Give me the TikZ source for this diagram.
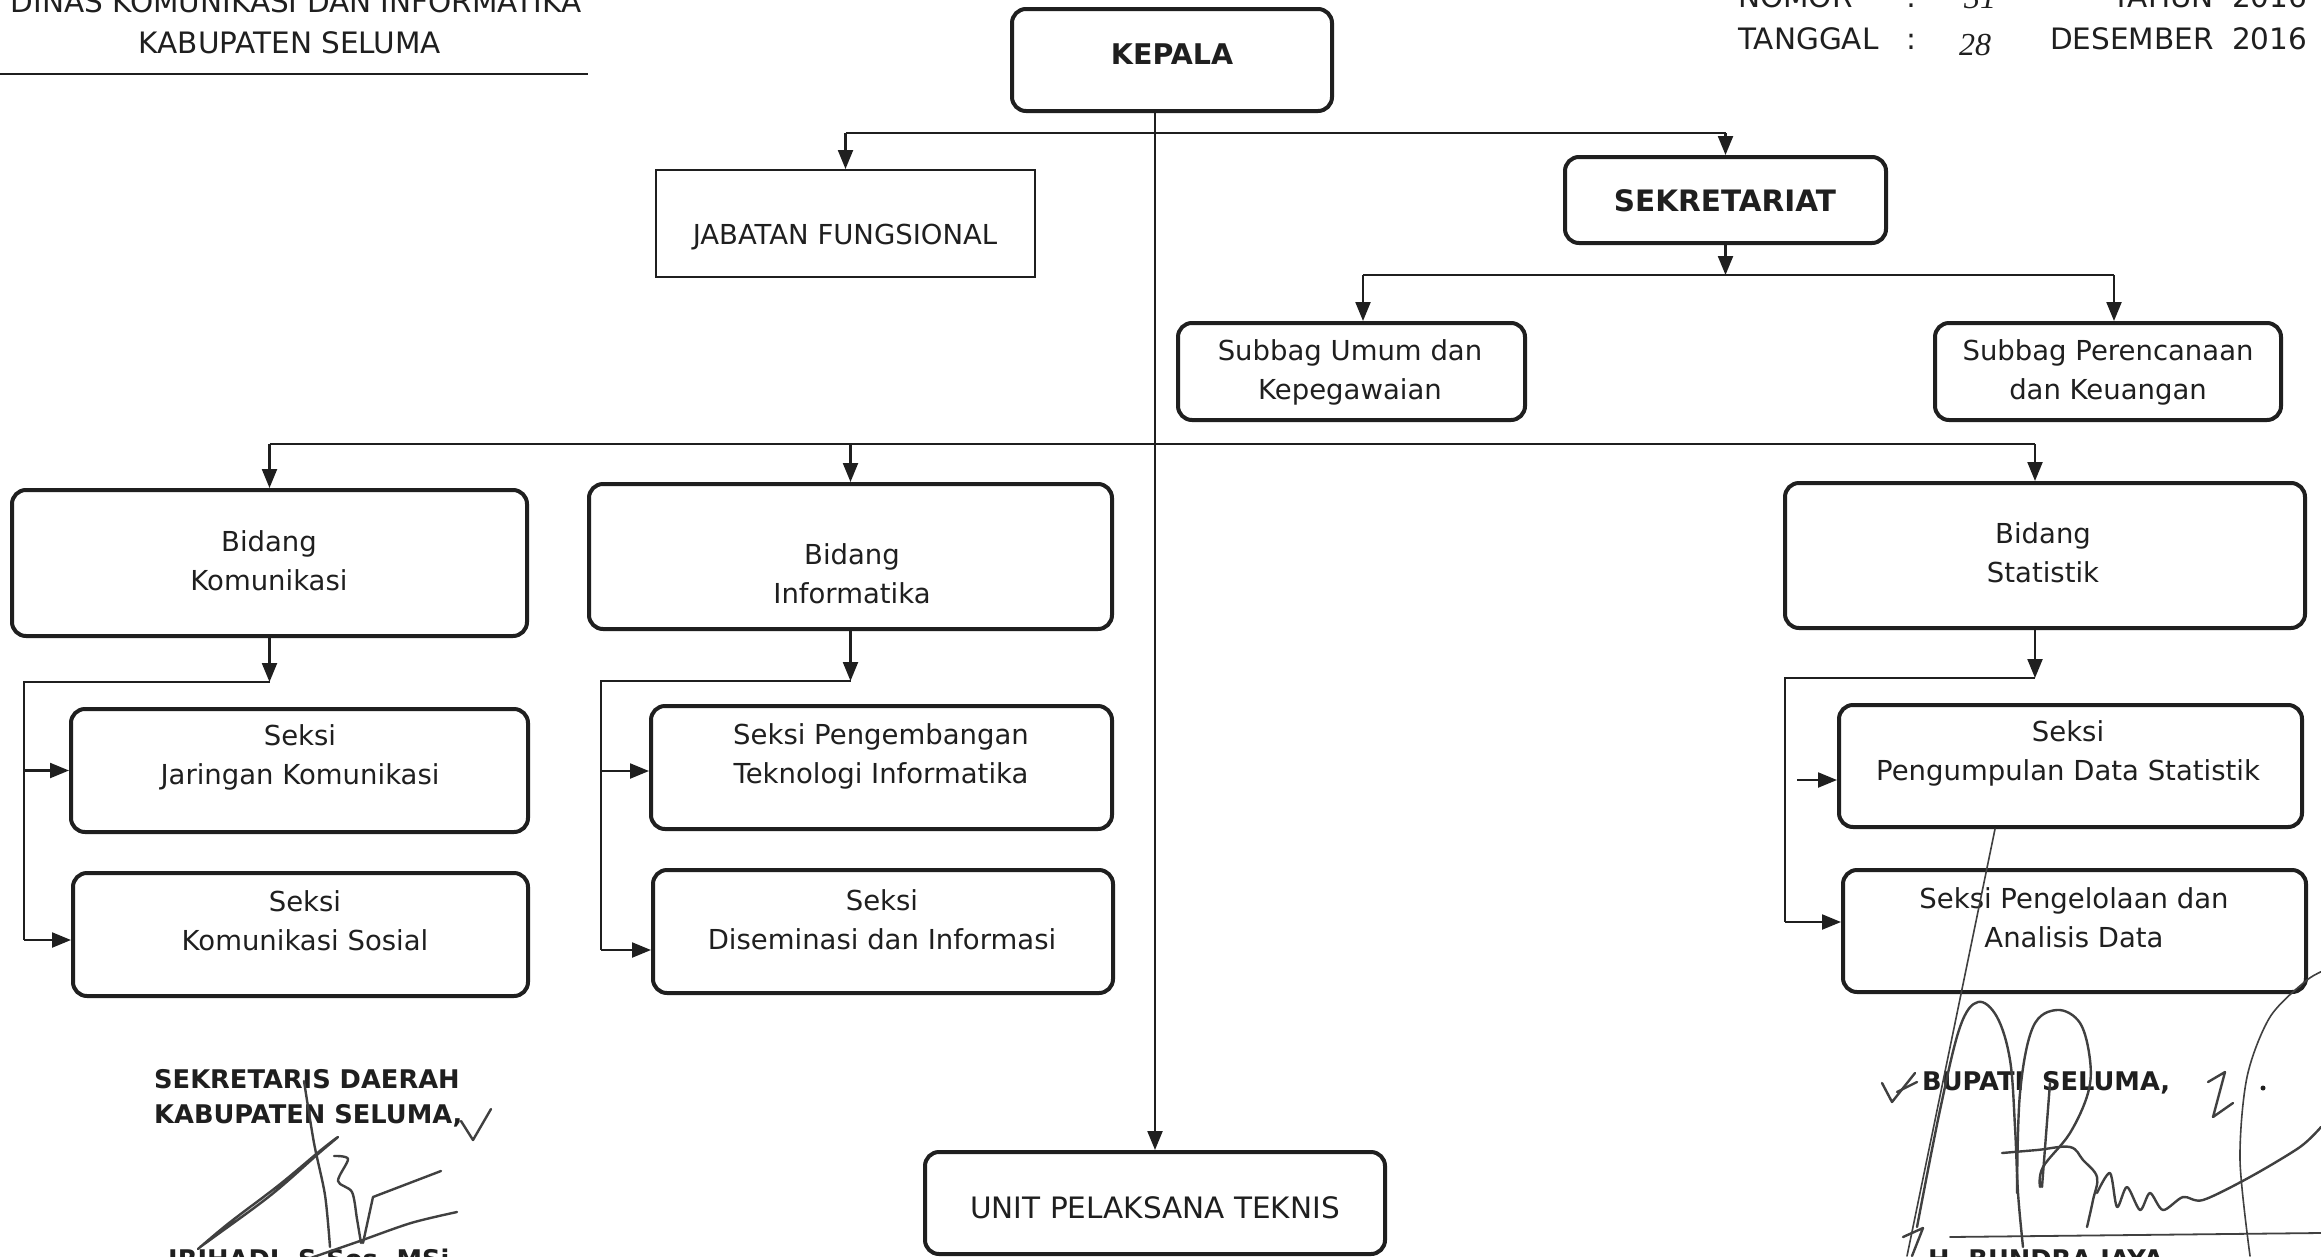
\documentclass[tikz,border=0pt]{standalone}
\usepackage{fontspec}
\setmainfont{DejaVu Sans}
\newfontfamily\handfont{Liberation Serif}
\usetikzlibrary{arrows.meta}
\definecolor{ink}{gray}{0.12}
\begin{document}
\begin{tikzpicture}[x=1pt,y=-1pt,
  rbox/.style={draw=ink, line width=4pt, rounded corners=14pt, inner sep=0pt},
  sbox/.style={draw=ink, line width=2pt, inner sep=0pt},
  conn/.style={draw=ink, line width=2.2pt},
  arr/.style={conn, -{Triangle[length=19pt,width=15pt]}},
  txt/.style={font=\fontsize{27.5}{39}\selectfont, align=center, text=ink, inner sep=0pt},
  btxt/.style={font=\bfseries\fontsize{28.5}{34}\selectfont, text=ink, inner sep=0pt},
  hdr/.style={font=\fontsize{29.5}{34}\selectfont, text=ink, inner sep=0pt},
  hand/.style={font=\handfont\itshape\fontsize{32}{36}\selectfont, text=ink, inner sep=0pt},
  sigt/.style={font=\bfseries\fontsize{25.7}{30}\selectfont, text=ink, inner sep=0pt, anchor=base west},
  sig/.style={draw=ink!85, line width=2.4pt, line cap=round, line join=round}
]
\useasboundingbox (0,0) rectangle (2321,1256);
\fill[white] (0,0) rectangle (2321,1256);
\clip (0,0) rectangle (2321,1256);

% ---------- header ----------
\node[hdr, anchor=base] (dinas) at (296,12) {DINAS KOMUNIKASI DAN INFORMATIKA};
\node[hdr, anchor=base] (kab) at (290,53) {KABUPATEN SELUMA};
\coordinate (rl) at (0,74);
\coordinate (rr) at (588,74);
\draw[ink, line width=1.8pt] (rl) -- (rr);

\node[hdr, anchor=base west] (nomor) at (1738,7) {NOMOR};
\node[hdr, anchor=base] (c1) at (1911,7) {:};
\node[hand, anchor=base] (n31) at (1980,8) {31};
\node[hdr, anchor=base east] (tahun) at (2214,7) {TAHUN};
\node[hdr, anchor=base west] (th1) at (2232,7) {2016};
\node[hdr, anchor=base west] (tgl) at (1738,49) {TANGGAL};
\node[hdr, anchor=base] (c2) at (1911,49) {:};
\node[hand, anchor=base] (n28) at (1975,55) {28};
\node[hdr, anchor=base west] (des) at (2050,49) {DESEMBER};
\node[hdr, anchor=base west] (th2) at (2232,49) {2016};

% ---------- boxes ----------
\node[rbox, minimum width=320pt, minimum height=102pt] (kepala) at (1172,60) {};
\node[sbox, minimum width=379pt, minimum height=107pt] (jab) at (845.5,223.5) {};
\node[rbox, minimum width=321pt, minimum height=86pt] (sek) at (1725.5,200) {};
\node[rbox, minimum width=347pt, minimum height=97pt] (su) at (1351.5,371.5) {};
\node[rbox, minimum width=346pt, minimum height=97pt] (sp) at (2108,371.5) {};
\node[rbox, minimum width=515pt, minimum height=146pt] (bk) at (269.5,563) {};
\node[rbox, minimum width=523pt, minimum height=145pt] (bi) at (850.5,556.5) {};
\node[rbox, minimum width=520pt, minimum height=145pt] (bs) at (2045,555.5) {};
\node[rbox, minimum width=457pt, minimum height=123pt] (sj) at (299.5,770.5) {};
\node[rbox, minimum width=455pt, minimum height=123pt] (ks) at (300.5,934.5) {};
\node[rbox, minimum width=461pt, minimum height=123pt] (spt) at (881.5,767.5) {};
\node[rbox, minimum width=460pt, minimum height=123pt] (sd) at (883,931.5) {};
\node[rbox, minimum width=463pt, minimum height=122pt] (spd) at (2070.5,766) {};
\node[rbox, minimum width=463pt, minimum height=122pt] (spa) at (2074.5,931) {};
\node[rbox, minimum width=460pt, minimum height=102pt] (upt) at (1155,1203) {};

% ---------- texts ----------
\node[btxt] (tkepala) at (1172,54) {KEPALA};
\node[txt] (tjab) at (845,237) {JABATAN FUNGSIONAL};
\node[btxt, font=\bfseries\fontsize{29.5}{34}\selectfont] (tsek) at (1725,201) {SEKRETARIAT};
\node[txt] (tsu) at (1350,372) {Subbag Umum dan\\Kepegawaian};
\node[txt] (tsp) at (2108,372) {Subbag Perencanaan\\dan Keuangan};
\node[txt] (tbk) at (269,561) {Bidang\\Komunikasi};
\node[txt] (tbi) at (852,574) {Bidang\\Informatika};
\node[txt] (tbs) at (2043,553) {Bidang\\Statistik};
\node[txt] (tsj) at (300,757) {Seksi\\Jaringan Komunikasi};
\node[txt] (tks) at (305,921) {Seksi\\Komunikasi Sosial};
\node[txt] (tspt) at (881,756) {Seksi Pengembangan\\Teknologi Informatika};
\node[txt] (tsd) at (882,920) {Seksi\\Diseminasi dan Informasi};
\node[txt] (tspd) at (2068,753) {Seksi\\Pengumpulan Data Statistik};
\node[txt] (tspa) at (2074,918) {Seksi Pengelolaan dan\\Analisis Data};
\node[txt, font=\fontsize{29.5}{34}\selectfont] (tupt) at (1155,1208) {UNIT PELAKSANA TEKNIS};

% ---------- connectors ----------
\draw[arr] (upt.north |- kepala.south) -- (upt.north);
\coordinate (kh) at (0,133);
\draw[conn] (jab.north |- kh) -- (sek.north |- kh);
\draw[arr] (jab.north |- kh) -- (jab.north);
\draw[arr] (sek.north |- kh) -- (sek.north);

\coordinate (sh) at (0,275);
\coordinate (sux) at (1363,275);
\coordinate (spx) at (2114,275);
\draw[arr] (sek.south) -- (sek.south |- sh);
\draw[conn] (sux) -- (spx);
\draw[arr] (sux) -- (sux |- su.north);
\draw[arr] (spx) -- (spx |- sp.north);

\coordinate (bh) at (0,444);
\coordinate (bsx) at (2035,444);
\draw[conn] (bk.north |- bh) -- (bsx);
\draw[arr] (bk.north |- bh) -- (bk.north);
\draw[arr] (bi.north |- bh) -- (bi.north);
\draw[arr] (bsx) -- (bsx |- bs.north);

% Komunikasi subtree
\coordinate (kv) at (24,682);
\draw[arr] (bk.south) -- (bk.south |- kv);
\draw[conn] (bk.south |- kv) -- (kv) -- (24,940);
\draw[arr] (kv |- sj.west) -- (sj.west);
\coordinate (ksa) at (24,940);
\draw[arr] (ksa) -- (ksa -| ks.west);

% Informatika subtree
\coordinate (iv) at (601,681);
\draw[arr] (bi.south) -- (bi.south |- iv);
\draw[conn] (bi.south |- iv) -- (iv) -- (601,950);
\coordinate (ia1) at (601,771);
\coordinate (ia2) at (601,950);
\draw[arr] (ia1) -- (ia1 -| spt.west);
\draw[arr] (ia2) -- (ia2 -| sd.west);

% Statistik subtree
\coordinate (sv) at (1785,678);
\coordinate (bsb) at (2035,628);
\draw[arr] (bsb) -- (bsb |- sv);
\draw[conn] (bsb |- sv) -- (sv) -- (1785,922);
\coordinate (sa1) at (1797,780);
\coordinate (sa2) at (1785,922);
\draw[arr] (sa1) -- (sa1 -| spd.west);
\draw[arr] (sa2) -- (sa2 -| spa.west);

% ---------- signature blocks ----------
\node[sigt] (sekda1) at (154,1088) {SEKRETARIS DAERAH};
\node[sigt] (sekda2) at (154,1123) {KABUPATEN SELUMA,};
\node[sigt] (sekda3) at (168,1268) {IRIHADI, S.Sos, MSi};
\node[sigt] (bup1) at (1922,1090) {BUPATI\ \ SELUMA,};
\node[sigt] (bup2) at (1928,1268) {H. BUNDRA JAYA};

% left signature strokes
\draw[sig] plot[smooth, tension=0.6] coordinates {(198,1249) (229,1223) (279,1185) (321,1150) (338,1137) (318,1154) (271,1195) (214,1237) (200,1247)};
\draw[sig] plot[smooth] coordinates {(304,1081) (314,1143) (325,1195) (330,1247)};
\draw[sig] plot[smooth, tension=0.5] coordinates {(334,1156) (348,1159) (338,1181) (352,1192) (357,1219) (361,1243)};
\draw[sig] (441,1171) -- (373,1197) -- (363,1243);
\draw[sig] plot[smooth] coordinates {(296,1263) (357,1242) (411,1223) (457,1212)};
\draw[sig] (461,1121) -- (473,1140) -- (491,1109);

% right signature strokes
\draw[sig, line width=1.6pt] (1995,829) -- (1907,1256);
\draw[sig] plot[smooth, tension=0.6] coordinates {(1917,1227) (1940,1110) (1960,1027) (1978,1002) (1997,1017) (2010,1060) (2015,1127) (2018,1193) (2023,1247)};
\draw[sig] plot[smooth, tension=0.6] coordinates {(2017,1193) (2020,1093) (2033,1027) (2057,1010) (2080,1023) (2090,1060) (2088,1093) (2070,1133) (2043,1167) (2040,1187)};
\draw[sig] (2050,1083) -- (2042,1187);
\draw[sig] plot[smooth, tension=0.6] coordinates {(2002,1153) (2037,1150) (2070,1147) (2083,1160) (2097,1177) (2093,1200) (2087,1227)};
\draw[sig] plot[smooth, tension=0.5] coordinates {(2097,1193) (2110,1173) (2117,1207) (2127,1187) (2140,1210) (2150,1193) (2163,1210) (2183,1197) (2203,1200) (2250,1177) (2300,1147) (2321,1127)};
\draw[sig, line width=1.6pt] plot[smooth] coordinates {(2250,1256) (2240,1160) (2247,1077) (2270,1017) (2307,980) (2330,968)};
\draw[sig, line width=1.8pt] (1950,1237) -- (2321,1233);
\draw[sig] (2208,1082) -- (2225,1072) -- (2213,1117) -- (2233,1103);
\fill[ink] (2263,1088) circle (2.5pt);
\draw[sig] (1882,1083) -- (1892,1102) -- (1915,1073);
\draw[sig] (1897,1092) -- (1917,1082);
\draw[sig] (1903,1237) -- (1923,1228) -- (1912,1256);
\end{tikzpicture}
\end{document}
